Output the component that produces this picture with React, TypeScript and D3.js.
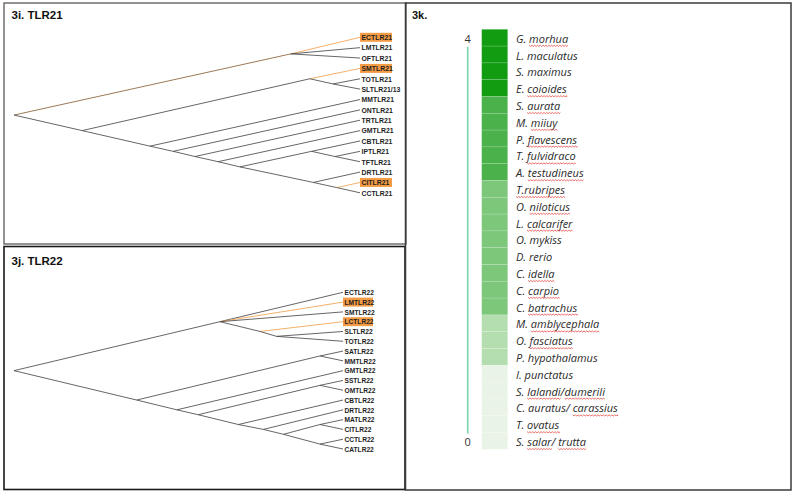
import React, { useEffect, useRef } from 'react';
import * as d3 from 'd3';

const W = 793;
const H = 494;

// ---------- Tree data (depth in % of root→tip distance) ----------
type TNode = { name?: string; depth?: number; row?: number; branch?: string; children?: TNode[] };
const L = (name: string, branch?: string): TNode => ({ name, branch });
const N = (depth: number, children: TNode[], branch?: string, row?: number): TNode => ({ depth, children, branch, row });

const tlr21Tree: TNode = N(0, [
  N(80, [L('ECTLR21', 'hl'), L('LMTLR21'), L('OFTLR21')], 'brown', 1.6),
  N(19.7, [
    N(85.5, [L('SMTLR21', 'hl'), N(92.2, [L('TOTLR21'), L('SLTLR21/13')])]),
    N(39.3, [
      L('MMTLR21'),
      N(46, [
        L('ONTLR21'),
        N(52.3, [
          L('TRTLR21'),
          N(59, [
            L('GMTLR21'),
            N(65.3, [
              N(86, [L('CBTLR21'), N(92.8, [L('IPTLR21'), L('TFTLR21')])]),
              N(86.5, [L('DRTLR21'), N(93.3, [L('CITLR21', 'hl'), L('CCTLR21')])]),
            ]),
          ]),
        ]),
      ]),
    ]),
  ]),
]);
const tlr21Highlighted = ['ECTLR21', 'SMTLR21', 'CITLR21'];

const tlr22Tree: TNode = N(0, [
  N(62.6, [
    L('ECTLR22'),
    L('LMTLR22', 'hl'),
    L('SMTLR22'),
    N(74.8, [L('LCTLR22', 'hl'), N(79.8, [L('SLTLR22'), L('TOTLR22')])]),
  ], undefined, 3),
  N(37.3, [
    N(93, [L('SATLR22'), L('MMTLR22')]),
    N(49.5, [
      L('GMTLR22'),
      N(56, [
        N(93, [L('SSTLR22'), L('OMTLR22')]),
        N(68.2, [
          L('CBTLR22'),
          N(75.8, [
            L('DRTLR22'),
            N(81.9, [N(93, [L('MATLR22'), L('CITLR22')]), N(93, [L('CCTLR22'), L('CATLR22')])]),
          ]),
        ]),
      ]),
    ]),
  ]),
]);
const tlr22Highlighted = ['LMTLR22', 'LCTLR22'];

// ---------- Heatmap data ----------
const species = [
  'G. [morhua]', 'L. maculatus', 'S. maximus', 'E. [coioides]',
  'S. [aurata]', 'M. [miiuy]', 'P. [flavescens]', 'T. [fulvidraco]', 'A. [testudineus]',
  '[T.rubripes]', 'O. [niloticus]', 'L. [calcarifer]', 'O. mykiss', 'D. rerio', 'C. [idella]', 'C. [carpio]', 'C. [batrachus]',
  'M. [amblycephala]', 'O. [fasciatus]', 'P. hypothalamus',
  'I. punctatus', 'S. [lalandi]/[dumerili]', 'C. auratus/ [carassius]', 'T. [ovatus]', 'S. [salar]/ [trutta]',
];
const speciesValues = [4, 4, 4, 4, 3, 3, 3, 3, 3, 2, 2, 2, 2, 2, 2, 2, 2, 1, 1, 1, 0, 0, 0, 0, 0];
const levelValues = [0, 1, 2, 3, 4];
const levelColors = ['#eaf4e6', '#b4deb0', '#7cc77a', '#4bb24b', '#129c12'];
const axisTicks = [0, 4];

function parseLabel(s: string) {
  let text = '';
  const segs: [number, number][] = [];
  let start = -1;
  for (const ch of s) {
    if (ch === '[') start = text.length;
    else if (ch === ']') segs.push([start, text.length]);
    else text += ch;
  }
  return { text, segs };
}
const parsedSpecies = species.map(parseLabel);

const ORANGE = '#f3a24e';
const BOX = '#f49b45';

function Tree({ tree, highlighted, x0, x1, y0, y1, fontSize, boxW }: any) {
  const h = d3.hierarchy<TNode>(tree);
  const leaves = h.leaves();
  const xs = d3.scaleLinear().domain([0, 100]).range([x0, x1]);
  const ys = d3.scaleLinear().domain([0, leaves.length - 1]).range([y0, y1]);
  const rowOf = new Map<any, number>();
  leaves.forEach((l, i) => rowOf.set(l, i));
  const pos = new Map<any, [number, number]>();
  h.each((n) => {
    const x = n.children ? xs(n.data.depth ?? 0) : xs(100);
    let r: number;
    if (!n.children) r = rowOf.get(n)!;
    else if (n.data.row !== undefined) r = n.data.row;
    else {
      const lv = n.leaves();
      r = (rowOf.get(lv[0])! + rowOf.get(lv[lv.length - 1])!) / 2;
    }
    pos.set(n, [x, ys(r)]);
  });
  const links = h.links();
  return (
    <g>
      {links.map((lk, i) => {
        const [sx, sy] = pos.get(lk.source)!;
        const [tx, ty] = pos.get(lk.target)!;
        const b = lk.target.data.branch;
        const col = b === 'hl' ? ORANGE : b === 'brown' ? '#8c6239' : '#4a4a4a';
        return <line key={i} x1={sx} y1={sy} x2={tx} y2={ty} stroke={col} strokeWidth={0.85} />;
      })}
      {leaves.map((l, i) => {
        const [x, y] = pos.get(l)!;
        const hl = highlighted.includes(l.data.name);
        return (
          <g key={'t' + i}>
            {hl && <rect x={x} y={y - 4.5} width={boxW} height={9} fill={BOX} />}
            <text
              transform={`translate(${x + 1.5},${y + 2.8}) scale(0.86,1)`}
              fontSize={fontSize}
              fontWeight="bold"
              fontFamily="'Liberation Sans', Arial, sans-serif"
              fill="#1e1e1e"
            >
              {l.data.name}
            </text>
          </g>
        );
      })}
    </g>
  );
}

export default function App() {
  const ref = useRef<SVGSVGElement>(null);

  const rows = d3.scaleBand<string>().domain(species).range([29.3, 449.3]);
  const color = d3.scaleOrdinal<number, string>().domain(levelValues).range(levelColors);
  const yAxis = d3
    .scaleLinear()
    .domain([0, 4])
    .range([rows(species[species.length - 1])! + rows.bandwidth() / 2, rows(species[0])! + rows.bandwidth() / 2]);
  const cellX = 481.7;
  const cellW = 26;
  const labelX = 516;
  const axisX = 467.7;

  useEffect(() => {
    const svg = d3.select(ref.current);
    const g = svg.select('g.squiggles');
    g.selectAll('*').remove();
    svg.selectAll<SVGTextElement, unknown>('text.species').each(function () {
      const el = this as SVGTextElement;
      const i = +(el.getAttribute('data-i') || 0);
      const yb = +(el.getAttribute('y') || 0) + 2.6;
      parsedSpecies[i].segs.forEach(([a, b]) => {
        const xa = el.getStartPositionOfChar(a).x;
        const xb = el.getEndPositionOfChar(b - 1).x;
        let p = `M${xa},${yb}`;
        let k = 0;
        for (let x = xa; x < xb; x += 1.4) {
          k++;
          p += `L${Math.min(x + 1.4, xb)},${yb + (k % 2 ? 1.1 : 0)}`;
        }
        g.append('path').attr('d', p).attr('fill', 'none').attr('stroke', '#e0302a').attr('stroke-width', 0.7);
      });
    });
  }, []);

  return (
    <svg ref={ref} width={W} height={H} style={{ position: 'absolute', left: 0, top: 0, background: '#fff' }}>
      <rect x={0} y={0} width={W} height={H} fill="#fff" />
      {/* Panel frames */}
      <rect x={4} y={3} width={402} height={241} fill="none" stroke="#5a5a5a" strokeWidth={1.3} />
      <rect x={4} y={246.5} width={401} height={243} fill="none" stroke="#1a1a1a" strokeWidth={1.6} />
      <rect x={405.5} y={3} width={385.5} height={487} fill="none" stroke="#3a3a3a" strokeWidth={1.5} />

      {/* Titles */}
      <text x={11.5} y={18.5} fontSize={11.5} fontWeight="bold" fontFamily="'Liberation Sans', Arial, sans-serif" fill="#111">
        3i. TLR21
      </text>
      <text x={11.5} y={265} fontSize={11.5} fontWeight="bold" fontFamily="'Liberation Sans', Arial, sans-serif" fill="#111">
        3j. TLR22
      </text>
      <text x={412} y={18.5} fontSize={11} fontWeight="bold" fontFamily="'Liberation Sans', Arial, sans-serif" fill="#111">
        3k.
      </text>

      <Tree tree={tlr21Tree} highlighted={tlr21Highlighted} x0={14} x1={360} y0={37.3} y1={192.8} fontSize={8} boxW={32} />
      <Tree tree={tlr22Tree} highlighted={tlr22Highlighted} x0={14} x1={343} y0={292.3} y1={449} fontSize={7.7} boxW={30} />

      {/* Heatmap column */}
      {species.map((s, i) => (
        <rect
          key={s}
          x={cellX}
          y={rows(s)}
          width={cellW}
          height={rows.bandwidth()}
          fill={color(speciesValues[i])}
          stroke="rgba(255,255,255,0.22)"
          strokeWidth={0.6}
        />
      ))}
      {/* Axis */}
      <line x1={axisX} x2={axisX} y1={yAxis(4) + 9} y2={yAxis(0) - 7.5} stroke="#7ad6a6" strokeWidth={1.6} />
      {axisTicks.map((t) => (
        <text key={t} x={axisX} y={yAxis(t) + 5} textAnchor="middle" fontSize={11} fontFamily="'Open Sans', sans-serif" fill="#333">
          {t}
        </text>
      ))}
      {/* Species labels */}
      {parsedSpecies.map((p, i) => (
        <text
          key={i}
          className="species"
          data-i={i}
          x={labelX}
          y={rows(species[i])! + rows.bandwidth() / 2 + 5}
          fontSize={11}
          fontStyle="italic"
          fontFamily="'Open Sans', sans-serif"
          fill="#2a2a2a"
        >
          {p.text}
        </text>
      ))}
      <g className="squiggles" />
    </svg>
  );
}
